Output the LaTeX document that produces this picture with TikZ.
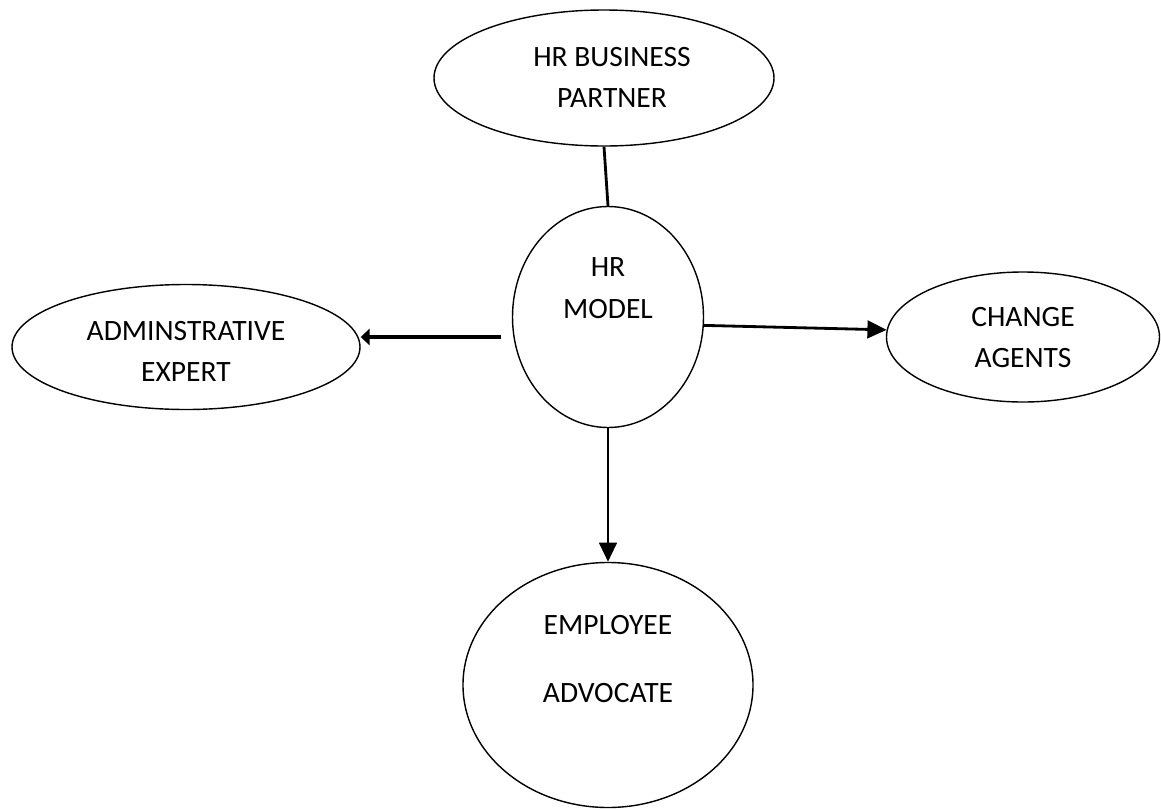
\documentclass[tikz,border=0pt]{standalone}
\usepackage{fontspec}
\setmainfont{Carlito}
\usetikzlibrary{shapes.geometric, arrows.meta}

\begin{document}
\begin{tikzpicture}[
    % Style for the ellipses (text is placed separately)
    role/.style = {ellipse, draw, line width=1pt, inner sep=0pt},
    % Style for the text inside the ellipses
    txt/.style = {align=center, inner sep=0pt, font=\fontsize{21}{29.5}\selectfont},
    % Style for the plain link and the arrows
    link/.style = {line width=2pt},
    arr/.style = {line width=2pt, -{Triangle[length=0.48cm, width=0.44cm]}}
]
    \useasboundingbox (0,0) rectangle (29.025,-20.225);

    % --- CENTRE ---
    \node[role, minimum width=4.775cm, minimum height=5.525cm] (model) at (15.2, -7.925) {};
    \node[txt] (model-t) at (15.2, -7.2) {HR\\MODEL};

    % --- TOP ---
    \node[role, minimum width=8.5cm, minimum height=3.4cm] (partner) at (15.1, -1.95) {};
    \node[txt] (partner-t) at (15.3, -1.94) {HR BUSINESS\\PARTNER};

    % --- LEFT ---
    \node[role, minimum width=8.7cm, minimum height=3.125cm] (admin) at (4.65, -8.675) {};
    \node[txt] (admin-t) at (4.65, -8.78) {ADMINSTRATIVE\\EXPERT};

    % --- RIGHT ---
    \node[role, minimum width=6.825cm, minimum height=3.25cm] (change) at (25.575, -8.425) {};
    \node[txt] (change-t) at (25.575, -8.44) {CHANGE\\AGENTS};

    % --- BOTTOM ---
    \node[role, minimum width=7.25cm, minimum height=6.125cm] (advocate) at (15.2, -17.125) {};
    \node[txt] (advocate-t) at (15.2, -16.48) {EMPLOYEE\\[19pt]ADVOCATE};

    % --- CONNECTORS ---
    \draw[link] (partner.south) -- (model.north);
    \coordinate (left-start) at ([shift={(-0.28cm,-0.5cm)}]model.west);
    \draw[line width=2.4pt, -{Triangle[length=0.22cm, width=0.4cm]}] (left-start) -- (left-start -| admin.east);
    \draw[arr] (model.-5) -- (change.177);
    \draw[arr] (model.south) -- (advocate.north);

\end{tikzpicture}
\end{document}
